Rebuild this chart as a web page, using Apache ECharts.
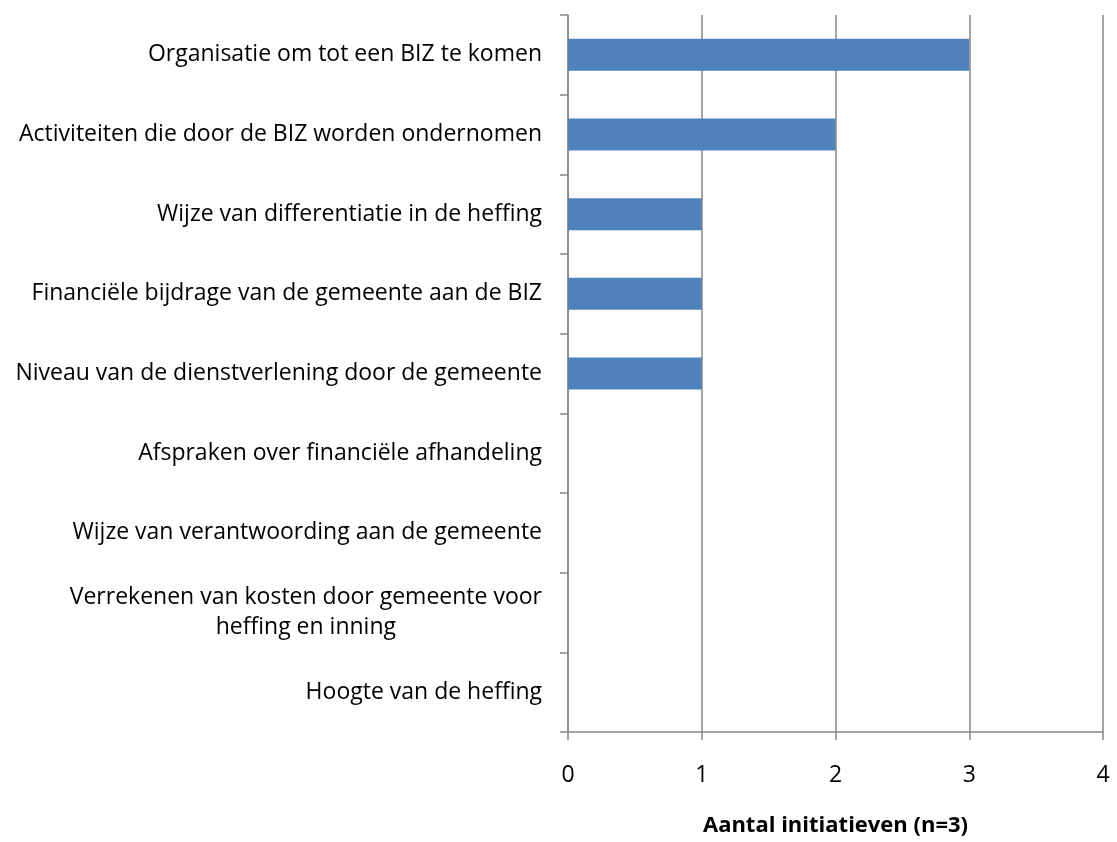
<!DOCTYPE html>
<html>
<head>
<meta charset="utf-8">
<script src="https://cdn.jsdelivr.net/npm/echarts@6/dist/echarts.min.js"></script>
<style>
html,body{margin:0;padding:0;background:#fff;}
#chart{width:1117px;height:842px;}
</style>
</head>
<body>
<div id="chart"></div>
<script>
const categories = [
  "Organisatie om tot een BIZ te komen",
  "Activiteiten die door de BIZ worden ondernomen",
  "Wijze van differentiatie in de heffing",
  "Financiële bijdrage van de gemeente aan de BIZ",
  "Niveau van de dienstverlening door de gemeente",
  "Afspraken over financiële afhandeling",
  "Wijze van verantwoording aan de gemeente",
  "Verrekenen van kosten door gemeente voor\nheffing en inning",
  "Hoogte van de heffing"
];
const values = [3, 2, 1, 1, 1, 0, 0, 0, 0];
const xTicks = [0, 1, 2, 3, 4];
const xAxisTitle = "Aantal initiatieven (n=3)";

const FONT = "Open Sans";
const chart = echarts.init(document.getElementById('chart'), null, {renderer: 'canvas'});
chart.setOption({
  animation: false,
  backgroundColor: '#ffffff',
  grid: {left: 568, right: 14, top: 15, bottom: 107, containLabel: false},
  xAxis: {
    type: 'value',
    min: xTicks[0],
    max: xTicks[xTicks.length - 1],
    interval: 1,
    name: xAxisTitle,
    nameLocation: 'middle',
    nameGap: 83,
    nameTextStyle: {fontFamily: FONT, fontSize: 22, fontWeight: 'bold', color: '#000'},
    axisLine: {show: true, lineStyle: {color: '#868686', width: 1.5}},
    axisTick: {show: true, length: 8, lineStyle: {color: '#868686', width: 1.5}},
    axisLabel: {fontFamily: FONT, fontSize: 23, color: '#000', margin: 32},
    splitLine: {show: true, lineStyle: {color: '#868686', width: 1.5}}
  },
  yAxis: {
    type: 'category',
    inverse: true,
    data: categories,
    axisLine: {show: true, lineStyle: {color: '#868686', width: 1.5}},
    axisTick: {show: true, length: 8, lineStyle: {color: '#868686', width: 1.5}},
    axisLabel: {
      fontFamily: FONT, fontSize: 23, color: '#000', margin: 26,
      formatter: function (v) { return v.split('\n').map(s => '{c|' + s + '}').join('\n'); },
      rich: {c: {fontFamily: FONT, fontSize: 23, color: '#000', align: 'center', lineHeight: 30}}
    },
    splitLine: {show: false}
  },
  series: [{
    type: 'bar',
    data: values,
    barWidth: 32,
    itemStyle: {color: '#4F81BD'}
  }]
});
</script>
</body>
</html>
